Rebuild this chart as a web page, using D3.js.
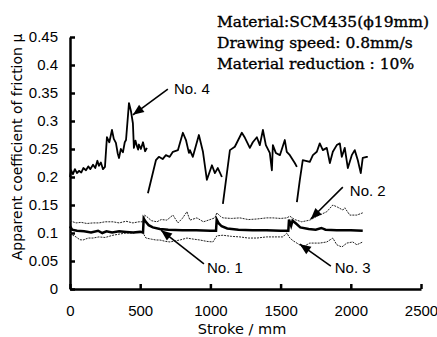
<!DOCTYPE html>
<html>
<head>
<meta charset="utf-8">
<script src="https://cdn.jsdelivr.net/npm/d3@7"></script>
<style>
  body { margin: 0; background: #fff; }
  svg { display: block; }
</style>
</head>
<body>
<div id="chart"></div>
<script>

// stroke (mm), apparent friction coefficient; null = gap in the trace
var no1 = [
  [0,0.112],[15,0.106],[50,0.104],[100,0.103],[150,0.101],[200,0.104],[230,0.1],[260,0.103],
  [300,0.101],[350,0.103],[400,0.102],[450,0.101],[500,0.102],[520,0.101],
  [525,0.126],[540,0.12],[560,0.114],[590,0.11],[640,0.107],[700,0.106],[800,0.105],[900,0.105],
  [1000,0.104],[1040,0.104],[1045,0.124],[1060,0.117],[1080,0.112],[1120,0.108],[1200,0.106],
  [1300,0.105],[1400,0.105],[1500,0.104],[1555,0.104],[1560,0.124],[1575,0.113],[1585,0.122],
  [1610,0.117],[1640,0.11],[1700,0.107],[1750,0.106],[1790,0.109],[1820,0.106],[1900,0.105],
  [2000,0.105],[2085,0.104]
];
var no2 = [
  [0,0.122],[20,0.12],[43,0.118],[80,0.119],[120,0.117],[164,0.118],[206,0.118],[250,0.12],
  [306,0.12],[350,0.118],[399,0.121],[448,0.118],[491,0.12],[520,0.12],
  [530,0.132],[548,0.129],[580,0.122],[619,0.12],[650,0.124],[690,0.123],[733,0.132],[769,0.118],
  [800,0.126],[833,0.138],[854,0.123],[904,0.127],[950,0.12],[975,0.122],[1032,0.127],
  [1046,0.136],[1070,0.13],[1089,0.127],[1150,0.126],[1210,0.127],[1270,0.124],[1331,0.125],
  [1400,0.127],[1445,0.127],[1500,0.126],[1544,0.127],[1566,0.13],[1600,0.124],[1650,0.12],
  [1708,0.123],[1760,0.13],[1829,0.138],[1872,0.15],[1907,0.146],[1943,0.141],[1957,0.145],
  [1993,0.132],[2043,0.132],[2085,0.136]
];
var no3 = [
  [0,0.1],[20,0.096],[43,0.093],[70,0.088],[93,0.0875],[130,0.091],[164,0.091],[206,0.093],
  [250,0.092],[306,0.096],[350,0.098],[399,0.1],[450,0.1],[491,0.102],[520,0.1],
  [541,0.091],[580,0.089],[612,0.0875],[641,0.0875],[680,0.085],[712,0.084],[750,0.086],
  [783,0.0875],[833,0.091],[880,0.089],[925,0.0875],[975,0.085],[1018,0.084],[1046,0.095],
  [1089,0.096],[1150,0.094],[1210,0.093],[1270,0.091],[1331,0.091],[1400,0.093],[1445,0.093],
  [1516,0.093],[1544,0.1],[1566,0.091],[1590,0.086],[1616,0.082],[1658,0.075],[1708,0.082],
  [1779,0.082],[1829,0.084],[1872,0.091],[1900,0.079],[1936,0.075],[1972,0.082],[2014,0.084],
  [2043,0.079],[2085,0.084]
];
var no4 = [
  [0,0.2],[8,0.212],[21,0.205],[35,0.214],[50,0.207],[64,0.211],[80,0.208],[95,0.216],
  [114,0.212],[130,0.219],[145,0.214],[164,0.222],[180,0.216],[195,0.229],[206,0.22],
  [220,0.226],[235,0.214],[249,0.218],[263,0.271],[280,0.262],[299,0.284],[312,0.268],
  [327,0.261],[340,0.242],[349,0.234],[362,0.25],[377,0.244],[390,0.262],[399,0.266],
  [420,0.332],[434,0.318],[448,0.296],[455,0.252],[466,0.265],[477,0.255],[485,0.249],
  [491,0.258],[505,0.25],[520,0.262],[535,0.246],[548,0.252],
  null,
  [555,0.171],[612,0.23],[633,0.236],[660,0.232],[683,0.239],[710,0.236],[733,0.245],[769,0.248],
  [804,0.279],[826,0.266],[847,0.243],[854,0.248],[875,0.236],[918,0.275],[947,0.245],
  [975,0.195],[1011,0.221],[1032,0.207],[1053,0.216],[1082,0.2],
  null,
  [1089,0.152],[1139,0.248],[1174,0.254],[1224,0.279],[1246,0.27],[1281,0.252],[1302,0.262],
  [1331,0.271],[1352,0.257],[1374,0.284],[1395,0.257],[1423,0.243],[1438,0.212],[1445,0.257],
  [1466,0.243],[1495,0.239],[1530,0.266],[1544,0.245],[1566,0.239],[1601,0.225],[1616,0.218],
  null,
  [1616,0.155],[1637,0.195],[1658,0.23],[1708,0.227],[1730,0.239],[1758,0.245],[1779,0.26],
  [1801,0.248],[1829,0.252],[1851,0.225],[1872,0.245],[1900,0.257],[1922,0.26],[1936,0.236],
  [1957,0.252],[1979,0.216],[2007,0.239],[2028,0.248],[2050,0.23],[2071,0.207],[2085,0.234],
  [2114,0.236],[2121,0.236]
];

var xTicks = [0, 500, 1000, 1500, 2000, 2500];
var yTicks = [0, 0.05, 0.1, 0.15, 0.2, 0.25, 0.3, 0.35, 0.4, 0.45];

// label, text anchor, arrow tail, arrow tip (data units)
var notes = [
  {label: "No. 4", text: [740, 0.348], from: [697, 0.357], to: [448, 0.311]},
  {label: "No. 2", text: [1993, 0.166], from: [1943, 0.182], to: [1715, 0.125]},
  {label: "No. 1", text: [975, 0.029], from: [954, 0.045], to: [648, 0.105]},
  {label: "No. 3", text: [1886, 0.029], from: [1858, 0.041], to: [1637, 0.080]}
];

var conditions = [
  "Material:SCM435(\u03d519mm)",
  "Drawing speed: 0.8mm/s",
  "Material reduction : 10%"
];

var width = 437, height = 337;
var sans = "'Century Gothic', 'Liberation Sans', Arial, sans-serif";
var wide = "'Century Gothic', 'DejaVu Sans', sans-serif";

var svg = d3.select("#chart").append("svg")
  .attr("width", width)
  .attr("height", height);

var x = d3.scaleLinear().domain([0, 2500]).range([70, 421]);
var y = d3.scaleLinear().domain([0, 0.45]).range([289, 37]);

var line = d3.line()
  .defined(function(d){ return d !== null; })
  .x(function(d){ return x(d[0]); })
  .y(function(d){ return y(d[1]); });

// axes
var xAxis = svg.append("g")
  .attr("transform", "translate(0," + y(0) + ")")
  .call(d3.axisBottom(x).tickValues(xTicks).tickFormat(d3.format("d"))
    .tickSizeInner(-5).tickSizeOuter(0).tickPadding(16));
var yAxis = svg.append("g")
  .attr("transform", "translate(" + x(0) + ",0)")
  .call(d3.axisLeft(y).tickValues(yTicks).tickFormat(function(d){ return d === 0 ? "0" : String(+d.toFixed(2)); })
    .tickSizeInner(-5).tickSizeOuter(0).tickPadding(12));

[xAxis, yAxis].forEach(function(g){
  g.select(".domain").attr("stroke", "#000").attr("stroke-width", 2.5);
  g.selectAll(".tick line").attr("stroke", "#000").attr("stroke-width", 2.5);
  g.selectAll(".tick text")
    .attr("fill", "#000")
    .style("font-family", sans)
    .style("font-size", "15px");
});

// traces
svg.append("path").datum(no2)
  .attr("d", line).attr("fill", "none")
  .attr("stroke", "#222").attr("stroke-width", 1).attr("stroke-dasharray", "2,1");
svg.append("path").datum(no3)
  .attr("d", line).attr("fill", "none")
  .attr("stroke", "#222").attr("stroke-width", 1).attr("stroke-dasharray", "2,1");
svg.append("path").datum(no1)
  .attr("d", line).attr("fill", "none")
  .attr("stroke", "#000").attr("stroke-width", 2.5);
svg.append("path").datum(no4)
  .attr("d", line).attr("fill", "none")
  .attr("stroke", "#000").attr("stroke-width", 1.8).attr("stroke-linejoin", "round");

// annotations with arrows
var ann = svg.append("g").selectAll("g").data(notes).enter().append("g");
ann.append("line")
  .attr("x1", function(d){ return x(d.from[0]); })
  .attr("y1", function(d){ return y(d.from[1]); })
  .attr("x2", function(d){ return x(d.to[0]); })
  .attr("y2", function(d){ return y(d.to[1]); })
  .attr("stroke", "#000").attr("stroke-width", 1.6);
ann.append("polygon")
  .attr("points", function(d){
    var x0 = x(d.from[0]), y0 = y(d.from[1]), x1 = x(d.to[0]), y1 = y(d.to[1]);
    var a = Math.atan2(y1 - y0, x1 - x0), len = 11, hw = 4.5;
    var bx = x1 - len * Math.cos(a), by = y1 - len * Math.sin(a);
    return [
      [x1, y1],
      [bx + hw * Math.sin(a), by - hw * Math.cos(a)],
      [bx - hw * Math.sin(a), by + hw * Math.cos(a)]
    ].map(function(p){ return p.join(","); }).join(" ");
  })
  .attr("fill", "#000");
ann.append("text")
  .attr("x", function(d){ return x(d.text[0]); })
  .attr("y", function(d){ return y(d.text[1]); })
  .style("font-family", sans)
  .style("font-size", "15px")
  .text(function(d){ return d.label; });

// axis titles
svg.append("text")
  .attr("x", 242).attr("y", 334)
  .attr("text-anchor", "middle")
  .style("font-family", wide).style("font-size", "14.5px")
  .text("Stroke / mm");
svg.append("text")
  .attr("transform", "translate(22,147) rotate(-90)")
  .attr("text-anchor", "middle")
  .style("font-family", wide).style("font-size", "14px")
  .text("Apparent coefficient of friction \u03bc");

// test conditions
svg.append("g").selectAll("text").data(conditions).enter().append("text")
  .attr("x", 217)
  .attr("y", function(d, i){ return 27 + i * 21; })
  .style("font-family", "'DejaVu Serif', serif")
  .style("font-size", "15.5px")
  .attr("stroke", "#000").attr("stroke-width", 0.35)
  .text(function(d){ return d; });

</script>
</body>
</html>
